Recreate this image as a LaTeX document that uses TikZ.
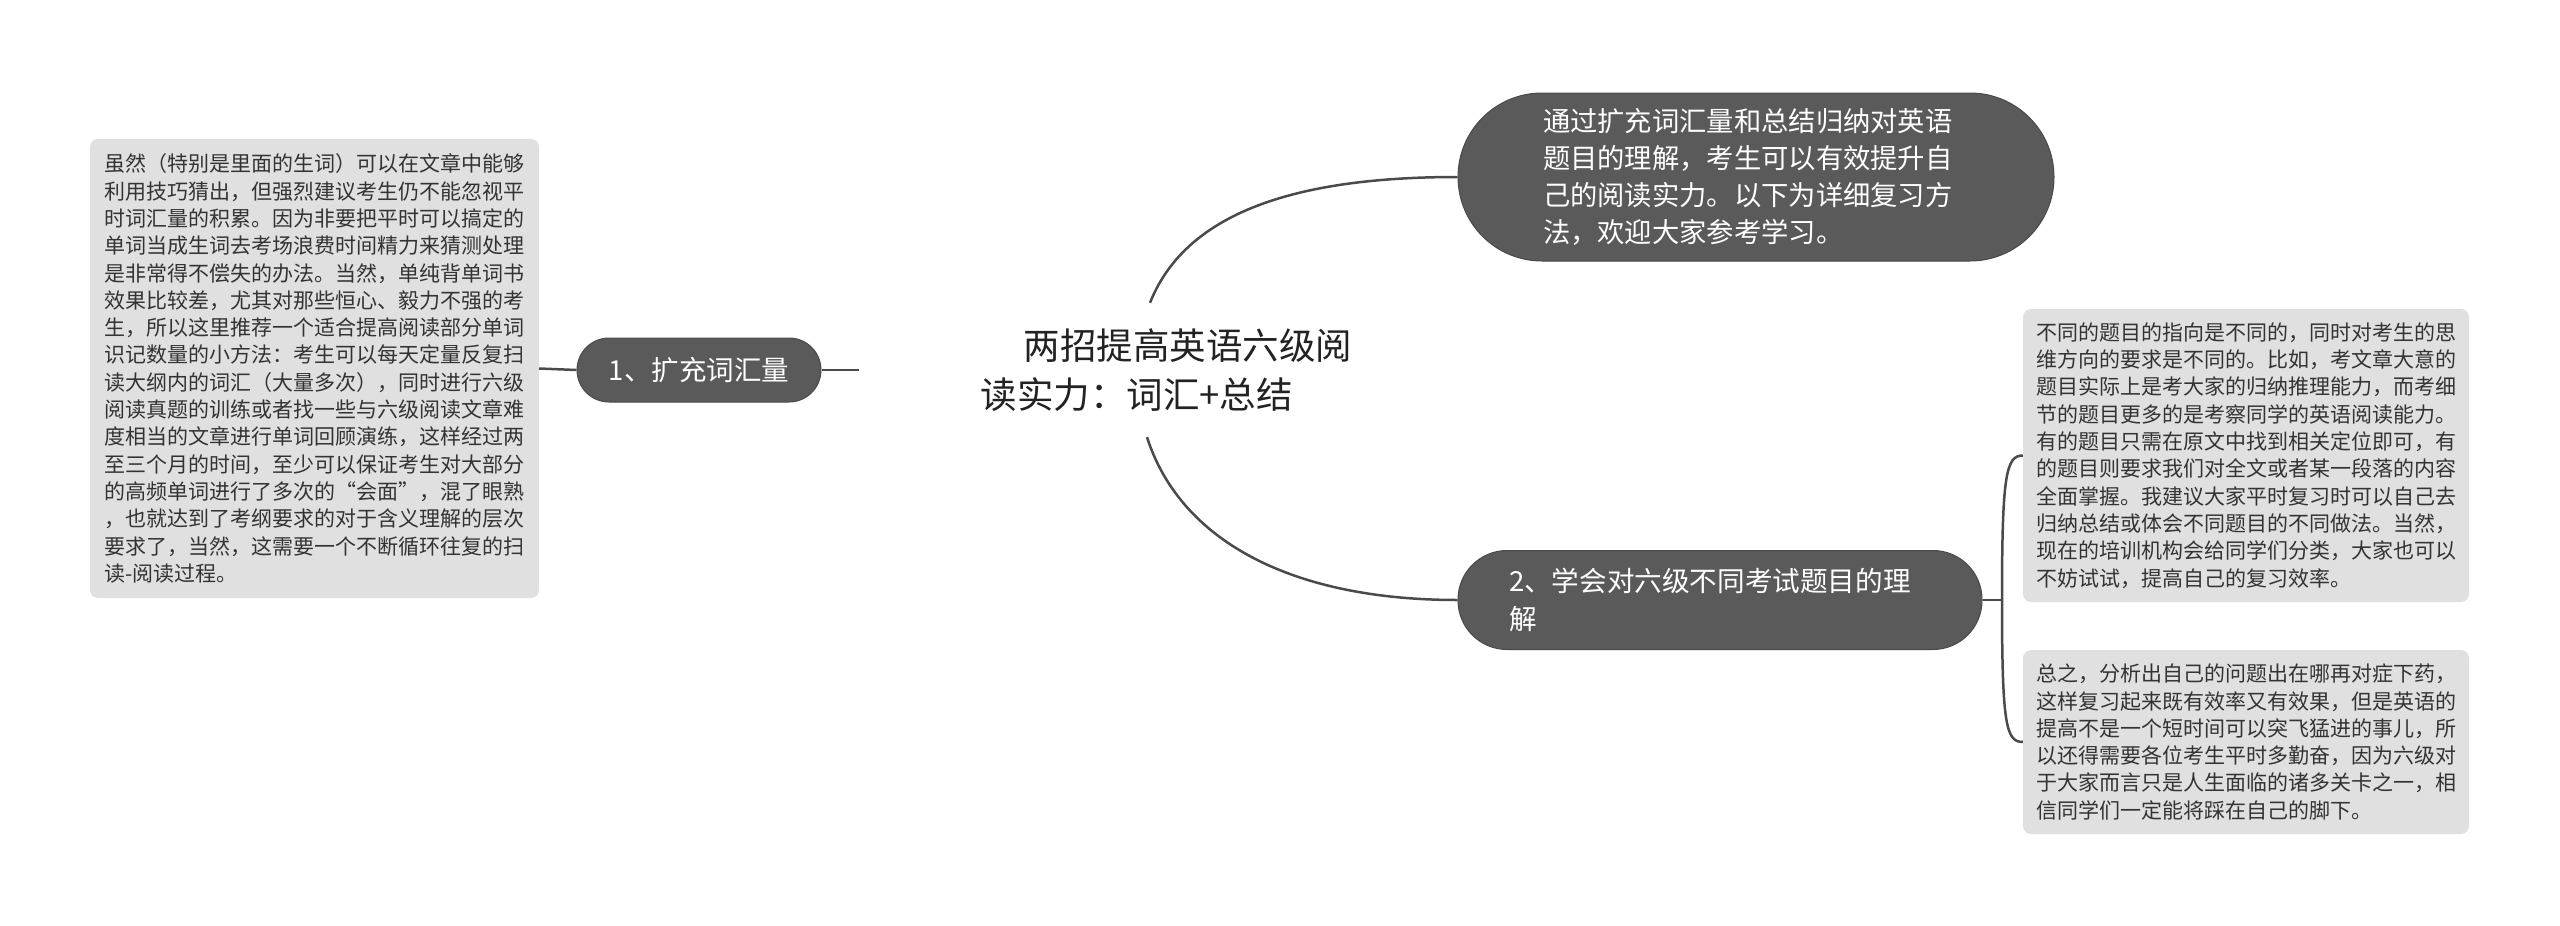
\documentclass[tikz,border=0pt]{standalone}
\usepackage{fontspec}
\setmainfont{Noto Sans CJK SC}
\definecolor{nodefill}{HTML}{5A5A5A}
\definecolor{nodeborder}{HTML}{4A4A4A}
\definecolor{boxfill}{HTML}{E0E0E0}
\definecolor{boxtext}{HTML}{333333}
\definecolor{linecol}{HTML}{4A4A4A}
\definecolor{titlecol}{HTML}{222222}
\tikzset{
  darknode/.style={fill=nodefill, draw=nodeborder, line width=1pt, text=white, inner sep=0pt, align=left},
  textbox/.style={fill=boxfill, draw=none, rounded corners=8pt, text=boxtext, inner sep=0pt, align=left,
     font={\fontsize{21}{27.3}\selectfont}, text width=420pt},
  conn/.style={draw=linecol, line width=2.5pt},
}
\begin{document}
\begin{tikzpicture}[x=1pt, y=-1pt]
\useasboundingbox (0,0) rectangle (2560,926);
% title
\node[inner sep=0pt, text=titlecol, align=left, text width=371pt, minimum height=134pt,
      font={\fontsize{36.5}{49}\selectfont}] (title) at (1166,370)
  {\hspace*{43pt}两招提高英语六级阅\\读实力：词汇+总结};
% top node
\node[darknode, minimum width=596pt, minimum height=168pt, rounded corners=84pt,
      text width=426pt, font={\fontsize{27.3}{37}\selectfont}] (top) at (1756,177)
  {通过扩充词汇量和总结归纳对英语\\题目的理解，考生可以有效提升自\\己的阅读实力。以下为详细复习方\\法，欢迎大家参考学习。};
% node 2
\node[darknode, minimum width=524pt, minimum height=99pt, rounded corners=49pt,
      text width=422pt, font={\fontsize{27.6}{38}\selectfont}] (n2) at (1720,600)
  {2、学会对六级不同考试题目的理\\解};
% node 1
\node[darknode, minimum width=244pt, minimum height=64pt, rounded corners=32pt, align=center,
      font={\fontsize{27.5}{33}\selectfont}] (n1) at (699,370) {1、扩充词汇量};
% left box
\node[textbox, minimum width=449pt, minimum height=459pt] (lb) at (314.5,368.5)
  {虽然（特别是里面的生词）可以在文章中能够\\
   利用技巧猜出，但强烈建议考生仍不能忽视平\\
   时词汇量的积累。因为非要把平时可以搞定的\\
   单词当成生词去考场浪费时间精力来猜测处理\\
   是非常得不偿失的办法。当然，单纯背单词书\\
   效果比较差，尤其对那些恒心、毅力不强的考\\
   生，所以这里推荐一个适合提高阅读部分单词\\
   识记数量的小方法：考生可以每天定量反复扫\\
   读大纲内的词汇（大量多次），同时进行六级\\
   阅读真题的训练或者找一些与六级阅读文章难\\
   度相当的文章进行单词回顾演练，这样经过两\\
   至三个月的时间，至少可以保证考生对大部分\\
   的高频单词进行了多次的“会面”，混了眼熟\\
   ，也就达到了考纲要求的对于含义理解的层次\\
   要求了，当然，这需要一个不断循环往复的扫\\
   读-阅读过程。};
% right box 1
\node[textbox, minimum width=446pt, minimum height=293pt] (rb1) at (2246,455.5)
  {不同的题目的指向是不同的，同时对考生的思\\
   维方向的要求是不同的。比如，考文章大意的\\
   题目实际上是考大家的归纳推理能力，而考细\\
   节的题目更多的是考察同学的英语阅读能力。\\
   有的题目只需在原文中找到相关定位即可，有\\
   的题目则要求我们对全文或者某一段落的内容\\
   全面掌握。我建议大家平时复习时可以自己去\\
   归纳总结或体会不同题目的不同做法。当然，\\
   现在的培训机构会给同学们分类，大家也可以\\
   不妨试试，提高自己的复习效率。};
% right box 2
\node[textbox, minimum width=446pt, minimum height=184pt] (rb2) at (2246,742)
  {总之，分析出自己的问题出在哪再对症下药，\\
   这样复习起来既有效率又有效果，但是英语的\\
   提高不是一个短时间可以突飞猛进的事儿，所\\
   以还得需要各位考生平时多勤奋，因为六级对\\
   于大家而言只是人生面临的诸多关卡之一，相\\
   信同学们一定能将踩在自己的脚下。};
% connectors
\coordinate (stub) at (859,370);
\coordinate (j) at (2002,600);
\draw[conn] ([xshift=-16pt]title.north) .. controls (1185,215) and (1290,177) .. (top.west);
\draw[conn] ([xshift=-19pt]title.south) .. controls (1180,540) and (1290,600) .. (n2.west);
\draw[conn] (lb.east) -- (n1.west);
\draw[conn] (n1.east) -- (stub);
\draw[conn] (n2.east) -- (j);
\draw[conn] (j) .. controls (2002,475) and (2006,455.5) .. (rb1.west);
\draw[conn] (j) .. controls (2002,725) and (2006,742) .. (rb2.west);
\end{tikzpicture}
\end{document}
